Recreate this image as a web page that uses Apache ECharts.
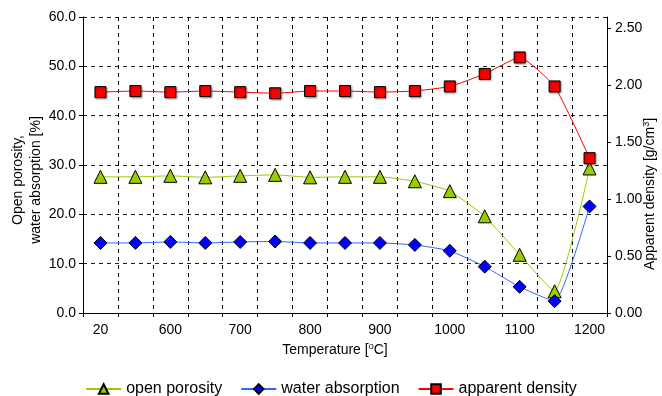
<!DOCTYPE html>
<html>
<head>
<meta charset="utf-8">
<script src="https://cdn.jsdelivr.net/npm/echarts@6/dist/echarts.min.js"></script>
<style>
  html, body { margin: 0; padding: 0; background: #fff; }
  #chart { width: 662px; height: 396px; }
</style>
</head>
<body>
<div id="chart"></div>
<script>
  // temperatures (°C)
  var temperatures = ['20', '550', '600', '650', '700', '750', '800', '850', '900', '950', '1000', '1050', '1100', '1150', '1200'];
  // open porosity [%]
  var openPorosity = [27.6, 27.6, 27.8, 27.5, 27.8, 28.0, 27.5, 27.6, 27.6, 26.7, 24.7, 19.6, 11.8, 4.4, 29.3];
  // water absorption [%]
  var waterAbsorption = [14.2, 14.2, 14.4, 14.2, 14.4, 14.5, 14.2, 14.2, 14.2, 13.8, 12.6, 9.4, 5.3, 2.4, 21.6];
  // apparent density [g/cm3]
  var apparentDensity = [1.94, 1.95, 1.94, 1.95, 1.94, 1.93, 1.95, 1.95, 1.94, 1.95, 1.99, 2.10, 2.245, 1.99, 1.36];

  var font = '"Liberation Sans", Arial, sans-serif';
  var gridLine = { show: true, lineStyle: { color: '#222', type: [4, 4], width: 1 } };
  var supStyle = { fontSize: 9, verticalAlign: 'top', padding: [0, 0, 7, 0], fontFamily: font, color: '#000' };

  var chart = echarts.init(document.getElementById('chart'), null, { renderer: 'canvas' });

  var options = {
    animation: false,
    textStyle: { fontFamily: font, color: '#000' },
    grid: { left: 83, right: 55, top: 17, bottom: 83, outerBoundsMode: 'none', containLabel: false },
    legend: {
      top: 376,
      left: 'center',
      itemWidth: 35,
      itemHeight: 12,
      itemGap: 18,
      textStyle: { fontSize: 16, fontFamily: font, color: '#000' },
      data: ['open porosity', 'water absorption', 'apparent density']
    },
    xAxis: {
      type: 'category',
      data: temperatures,
      boundaryGap: true,
      name: 'Temperature [{sup|o}C]',
      nameLocation: 'middle',
      nameGap: 29,
      nameMoveOverlap: false,
      nameTextStyle: {
        fontSize: 14, fontFamily: font, color: '#000', padding: [0, 20, 0, 0],
        rich: { sup: supStyle }
      },
      axisLine: { lineStyle: { color: '#000', width: 1 } },
      axisTick: { show: true, interval: 0, length: 4, lineStyle: { color: '#000' } },
      axisLabel: { interval: 1, fontSize: 14, color: '#000', margin: 10, fontFamily: font },
      splitLine: { show: true, interval: 0, lineStyle: { color: '#000', type: [4, 4], width: 1 } }
    },
    yAxis: [
      {
        type: 'value',
        min: 0,
        max: 60,
        interval: 10,
        name: 'Open porosity,\nwater absorption [%]',
        nameLocation: 'middle',
        nameGap: 38,
        nameMoveOverlap: false,
        nameTextStyle: { fontSize: 14, lineHeight: 18, fontFamily: font, color: '#000', padding: [0, 30, 0, 0] },
        axisLine: { show: true, lineStyle: { color: '#000', width: 1 } },
        axisTick: { show: true, length: 4, lineStyle: { color: '#000' } },
        axisLabel: { fontSize: 14, color: '#000', margin: 7, fontFamily: font, formatter: function (v) { return v.toFixed(1); } },
        splitLine: gridLine
      },
      {
        type: 'value',
        min: 0,
        max: 2.6,
        interval: 0.5,
        position: 'right',
        name: 'Apparent density [g/cm{sup|3}]',
        nameLocation: 'middle',
        nameGap: 35,
        nameRotate: 90,
        nameMoveOverlap: false,
        nameTextStyle: {
          fontSize: 14, fontFamily: font, color: '#000', padding: [0, 58, 0, 0],
          rich: { sup: supStyle }
        },
        axisLine: { show: true, lineStyle: { color: '#000', width: 1 } },
        axisTick: { show: true, length: 4, lineStyle: { color: '#000' } },
        axisLabel: { fontSize: 14, color: '#000', margin: 8, fontFamily: font, showMaxLabel: false, formatter: function (v) { return v.toFixed(2); } },
        splitLine: { show: false }
      }
    ],
    series: [
      {
        name: 'open porosity',
        type: 'line',
        data: openPorosity,
        yAxisIndex: 0,
        smooth: 0.15,
        symbol: 'triangle',
        symbolSize: [13, 13],
        lineStyle: { color: '#99CC00', width: 1 },
        itemStyle: { color: '#99CC00', borderColor: '#000', borderWidth: 1 }
      },
      {
        name: 'water absorption',
        type: 'line',
        data: waterAbsorption,
        yAxisIndex: 0,
        smooth: 0.15,
        symbol: 'diamond',
        symbolSize: [13, 13],
        lineStyle: { color: '#3366FF', width: 1 },
        itemStyle: { color: '#0000FF', borderColor: '#000', borderWidth: 1 }
      },
      {
        name: 'apparent density',
        type: 'line',
        data: apparentDensity,
        yAxisIndex: 1,
        smooth: 0.15,
        symbol: 'rect',
        symbolSize: [11, 11],
        lineStyle: { color: '#FF0000', width: 1 },
        itemStyle: { color: '#FF0000', borderColor: '#000', borderWidth: 1, shadowColor: 'rgba(0,0,0,0.35)', shadowBlur: 2, shadowOffsetX: 1, shadowOffsetY: 1 }
      }
    ]
  };

  chart.setOption(options);
</script>
</body>
</html>
